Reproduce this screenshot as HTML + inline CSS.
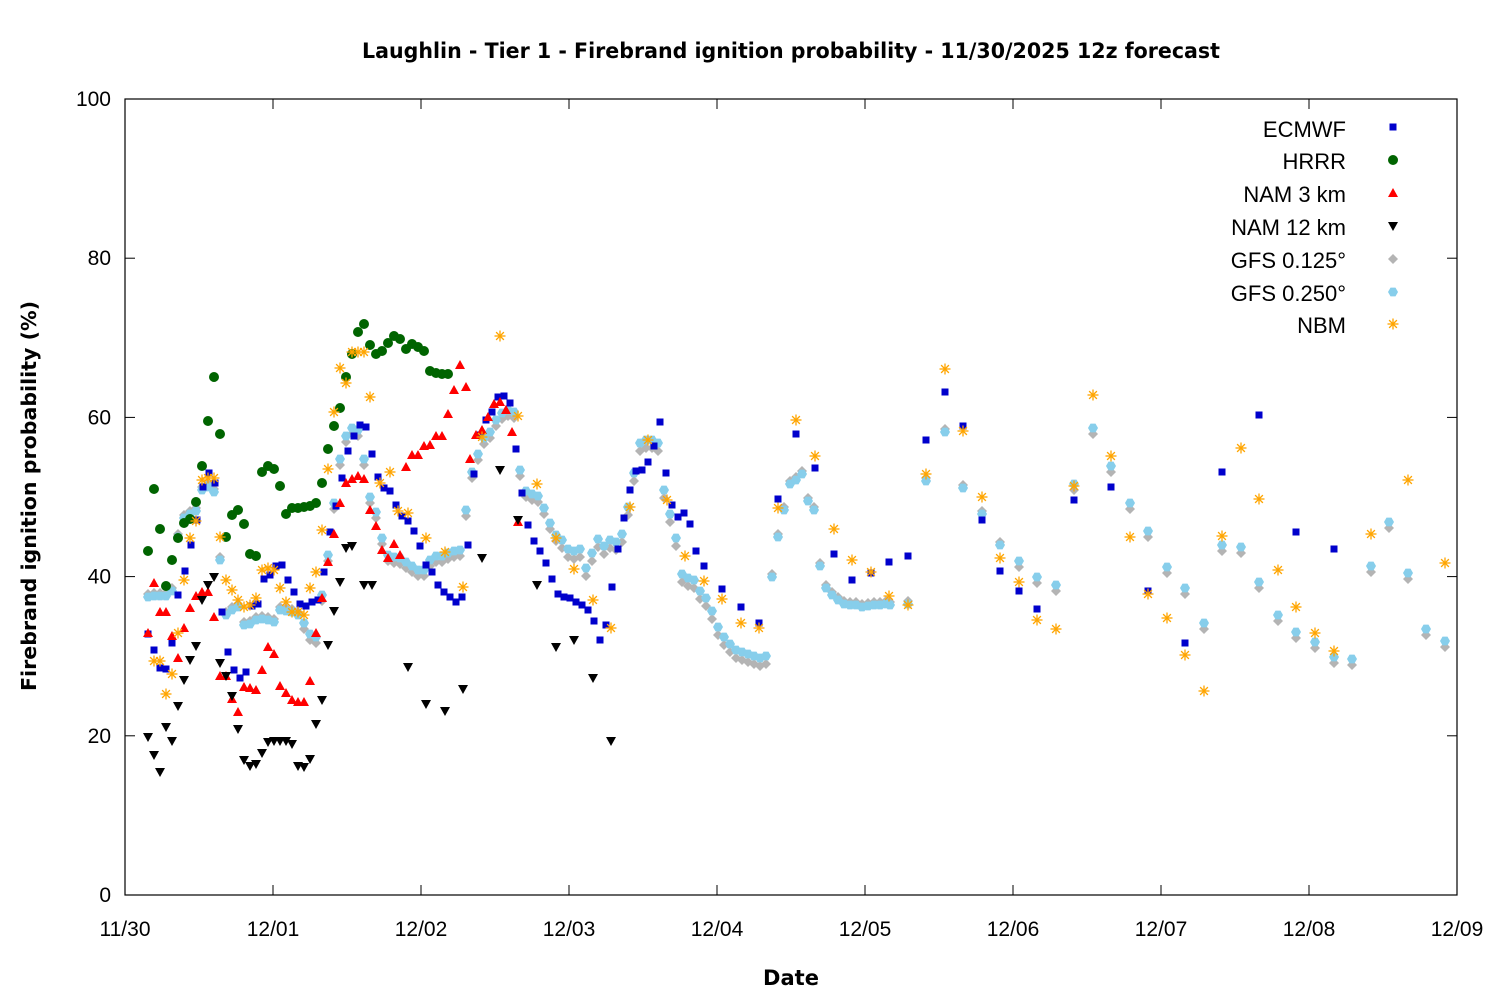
<!DOCTYPE html>
<html><head><meta charset="utf-8"><style>
html,body{margin:0;padding:0;background:#fff}
text{font-family:"Liberation Sans","DejaVu Sans",sans-serif}
</style></head><body>
<svg id="s" width="1500" height="1000" xmlns="http://www.w3.org/2000/svg">
<rect width="1500" height="1000" fill="#fff"/>
<text x="791" y="58" text-anchor="middle" font-size="21" font-weight="bold" style="font-family:'DejaVu Sans',sans-serif" textLength="858" lengthAdjust="spacingAndGlyphs">Laughlin - Tier 1 - Firebrand ignition probability - 11/30/2025 12z forecast</text>
<rect x="125" y="99" width="1332" height="796" fill="none" stroke="#000" stroke-width="1.2"/>
<g id="ax" font-size="21"></g>
<text x="791" y="985" text-anchor="middle" font-size="21" font-weight="bold" style="font-family:'DejaVu Sans',sans-serif">Date</text>
<text transform="translate(36,496) rotate(-90)" text-anchor="middle" font-size="20" font-weight="bold" style="font-family:'DejaVu Sans',sans-serif" textLength="390" lengthAdjust="spacingAndGlyphs">Firebrand ignition probability (%)</text>
<g id="pts"></g>
<g font-size="22" text-anchor="end">
<text x="1346" y="137">ECMWF</text><text x="1346" y="169">HRRR</text><text x="1346" y="202">NAM 3 km</text><text x="1346" y="235">NAM 12 km</text><text x="1346" y="268">GFS 0.125°</text><text x="1346" y="301">GFS 0.250°</text><text x="1346" y="333">NBM</text>
</g>
</svg>
<script>
var NS="http://www.w3.org/2000/svg",ax=document.getElementById('ax'),P=document.getElementById('pts');
function el(t,a,p){var e=document.createElementNS(NS,t);for(var k in a)e.setAttribute(k,a[k]);(p||P).appendChild(e);return e;}
var d=["11/30","12/01","12/02","12/03","12/04","12/05","12/06","12/07","12/08","12/09"];
for(var i=0;i<10;i++){var x=125+148*i;el('line',{x1:x,y1:895,x2:x,y2:885,stroke:'#000'},ax);el('line',{x1:x,y1:99,x2:x,y2:109,stroke:'#000'},ax);var t=el('text',{x:x,y:936,'text-anchor':'middle'},ax);t.textContent=d[i];}
for(var i=0;i<=5;i++){var y=895-159.2*i;el('line',{x1:125,y1:y,x2:135,y2:y,stroke:'#000'},ax);el('line',{x1:1457,y1:y,x2:1447,y2:y,stroke:'#000'},ax);var t=el('text',{x:111,y:y+7,'text-anchor':'end'},ax);t.textContent=20*i;}
function mk(type,x,y){
 if(type=='sq')el('rect',{x:x-3.5,y:y-3.5,width:7,height:7,fill:'#0000cc'});
 else if(type=='ci')el('circle',{cx:x,cy:y,r:5,fill:'#006400'});
 else if(type=='tu')el('polygon',{points:(x-5)+','+(y+4)+' '+(x+5)+','+(y+4)+' '+x+','+(y-5),fill:'#f00'});
 else if(type=='td')el('polygon',{points:(x-5)+','+(y-4)+' '+(x+5)+','+(y-4)+' '+x+','+(y+5),fill:'#000'});
 else if(type=='di')el('polygon',{points:x+','+(y-5)+' '+(x+5)+','+y+' '+x+','+(y+5)+' '+(x-5)+','+y,fill:'#b4b4b4'});
 else if(type=='hx'){var p=[];for(var k=0;k<6;k++){var a=Math.PI/3*k;p.push((x+5*Math.cos(a))+','+(y+5*Math.sin(a)));}el('polygon',{points:p.join(' '),fill:'#87ceeb'});}
 else if(type=='as'){for(var k=0;k<4;k++){var a=Math.PI/4*k,c=5.5*Math.cos(a),s=5.5*Math.sin(a);el('line',{x1:x-c,y1:y-s,x2:x+c,y2:y+s,stroke:'#ffa500','stroke-width':1.3});}}
}
function S(type,a){for(var i=0;i<a.length;i+=2)mk(type,a[i],a[i+1]);}
var gfs25=[148,597,154,596,160,596,166,596,172,591,178,537,184,518,190,514,196,511,202,490,208,487,214,492,220,560,226,615,232,610,238,607,244,625,250,624,256,620,262,619,268,620,274,622,280,610,286,611,292,612,298,615,304,623,310,634,316,637,322,595,328,555,334,503,340,459,346,436,352,428,358,430,364,459,370,497,376,512,382,538,388,555,394,557,400,558,406,562,412,566,418,570,424,570,430,560,436,556,442,556,448,553,454,551,460,550,466,510,472,472,478,454,484,438,490,432,496,420,502,413,508,410,514,412,520,470,526,491,532,494,538,496,544,508,550,523,556,535,562,540,568,549,574,551,580,549,586,568,592,553,598,539,604,546,610,540,616,542,622,534,628,507,634,473,640,443,646,440,652,440,658,443,664,490,670,514,676,538,682,574,688,578,694,580,700,591,706,598,712,611,718,627,724,637,730,644,736,650,742,652,748,654,754,656,760,658,766,656,772,577,778,537,784,510,790,484,796,480,802,474,808,501,814,510,820,566,826,588,832,595,838,600,844,604,850,605,856,605,862,607,868,606,874,605,880,605,886,604,890,605,908,604,926,481,945,432,963,488,982,514,1000,545,1019,561,1037,577,1056,585,1074,484,1093,428,1111,466,1130,503,1148,531,1167,567,1185,588,1204,623,1222,545,1241,547,1259,582,1278,615,1296,632,1315,642,1334,657,1352,659,1371,566,1389,522,1408,573,1426,629,1445,641];
var gfs125=[];for(var i=0;i<gfs25.length;i+=2){var x=gfs25[i],y=gfs25[i+1];var dy=(x>560&&x<770)?8:(x>1000&&x<1460?6:-3);if(x<560&&x>300)dy=6;gfs125.push(x,y+dy);}
S('di',gfs125);S('hx',gfs25);
S('sq',[148,634,154,650,160,668,166,669,172,643,178,595,185,571,191,545,197,520,203,487,209,473,215,483,222,612,228,652,234,670,240,678,246,672,252,606,258,604,264,579,270,575,276,566,282,565,288,580,294,592,300,604,306,606,312,602,318,600,324,572,330,532,336,506,342,478,348,451,354,436,360,425,366,427,372,454,378,477,384,488,390,491,396,505,402,516,408,521,414,531,420,546,426,565,432,572,438,585,444,592,450,597,456,602,462,597,468,545,474,474,480,435,486,420,492,412,498,397,504,396,510,403,516,449,522,493,528,525,534,541,540,551,546,563,552,579,558,594,564,597,570,598,576,602,582,605,588,610,594,621,600,640,606,625,612,587,618,549,624,518,630,490,636,471,642,470,648,462,654,446,660,422,666,473,672,505,678,517,684,513,690,524,696,551,704,566,722,589,741,607,759,623,778,499,796,434,815,468,834,554,852,580,871,573,889,562,908,556,926,440,945,392,963,426,982,520,1000,571,1019,591,1037,609,1074,500,1111,487,1148,591,1185,643,1222,472,1259,415,1296,532,1334,549]);
S('ci',[148,551,154,489,160,529,166,586,172,560,178,538,184,523,190,519,196,502,202,466,208,421,214,377,220,434,226,537,232,515,238,510,244,524,250,554,256,556,262,472,268,466,274,469,280,486,286,514,292,508,298,508,304,507,310,506,316,503,322,483,328,449,334,426,340,408,346,377,352,354,358,332,364,324,370,345,376,354,382,351,388,343,394,336,400,339,406,349,412,344,418,347,424,351,430,371,436,373,442,374,448,374]);
S('tu',[148,633,154,583,160,612,166,612,172,636,178,658,184,628,190,608,196,596,202,592,208,592,214,617,220,676,226,676,232,699,238,712,244,687,250,688,256,690,262,670,268,647,274,654,280,686,286,693,292,700,298,702,304,702,310,681,316,633,322,598,328,562,334,534,340,503,346,483,352,479,358,476,364,479,370,510,376,526,382,550,388,558,394,544,400,555,406,467,412,455,418,455,424,446,430,445,436,436,442,436,448,414,454,390,460,365,466,387,470,459,476,435,482,430,488,417,494,404,500,402,506,410,512,432,518,522]);
S('td',[148,737,154,755,160,772,166,727,172,741,178,706,184,680,190,660,196,646,202,600,208,585,214,577,220,663,226,676,232,696,238,729,244,760,250,766,256,764,262,753,268,742,274,741,280,741,286,741,292,744,298,766,304,767,310,759,316,724,322,700,328,645,334,611,340,582,346,548,352,546,364,585,372,585,408,667,426,704,445,711,463,689,482,558,500,470,518,520,537,585,556,647,574,640,593,678,611,741]);
S('as',[154,661,160,661,166,694,172,674,178,633,184,580,190,538,196,521,202,480,208,478,214,478,220,537,226,580,232,590,238,600,244,607,250,605,256,598,262,570,268,568,274,570,280,588,286,602,292,612,298,612,304,615,310,588,316,572,322,530,328,469,334,412,340,368,346,383,352,352,358,352,364,352,370,397,380,483,390,472,398,511,408,513,426,538,445,552,463,587,482,437,500,336,518,416,537,484,556,538,574,569,593,600,611,628,630,507,648,440,667,500,685,556,704,581,722,599,741,623,759,628,778,508,796,420,815,456,834,529,852,560,871,572,889,596,908,605,926,474,945,369,963,431,982,497,1000,558,1019,582,1037,620,1056,629,1074,486,1093,395,1111,456,1130,537,1148,594,1167,618,1185,655,1204,691,1222,536,1241,448,1259,499,1278,570,1296,607,1315,633,1334,651,1371,534,1408,480,1445,563]);
mk('sq',1393,127);mk('ci',1393,160);mk('tu',1393,193);mk('td',1393,226);mk('di',1393,259);mk('hx',1393,292);mk('as',1393,324);
</script>
</body></html>
